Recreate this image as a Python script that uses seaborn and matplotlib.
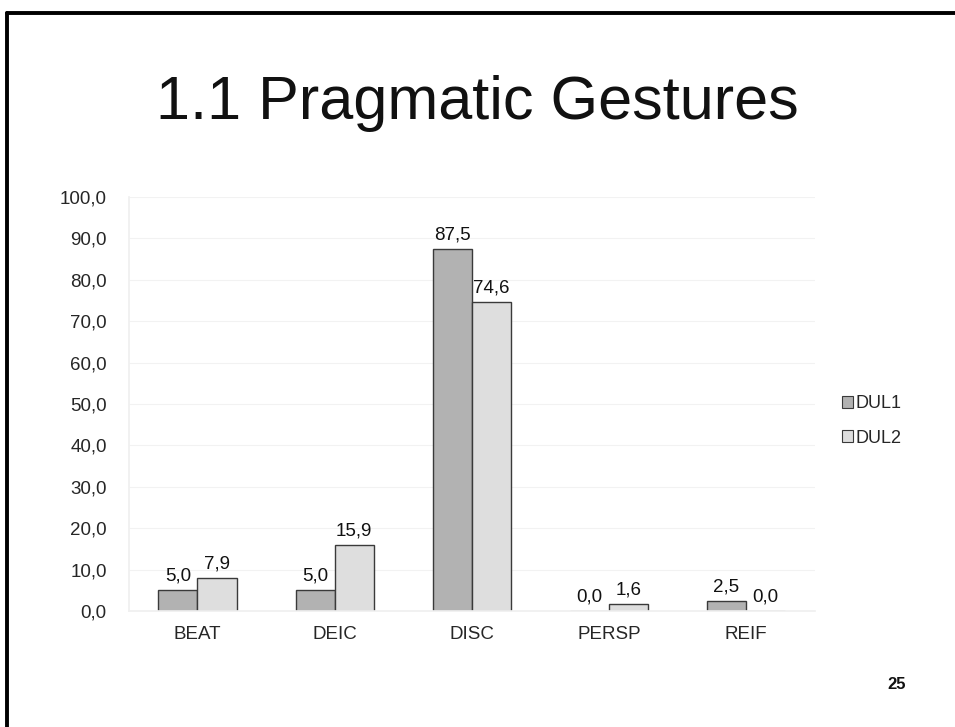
import matplotlib
matplotlib.use("Agg")
import matplotlib.pyplot as plt
from matplotlib.lines import Line2D
from matplotlib.patches import Patch
import numpy as np
import pandas as pd
import seaborn as sns

categories = ["BEAT", "DEIC", "DISC", "PERSP", "REIF"]
dul1 = [5.0, 5.0, 87.5, 0.0, 2.5]
dul2 = [7.9, 15.9, 74.6, 1.6, 0.0]
series = ["DUL1", "DUL2"]
colors = ["#b2b2b2", "#dedede"]
yticks = [0, 10, 20, 30, 40, 50, 60, 70, 80, 90, 100]

df = pd.DataFrame({
    "cat": categories * 2,
    "val": dul1 + dul2,
    "series": ["DUL1"] * len(categories) + ["DUL2"] * len(categories),
})

sns.set_theme(style="white")
plt.rcParams["font.family"] = ["Liberation Sans", "DejaVu Sans"]

fig = plt.figure(figsize=(9.55, 7.27), dpi=100)
ax = fig.add_axes([0.135, 0.1596, 0.718, 0.5695])

sns.barplot(data=df, x="cat", y="val", hue="series", order=categories,
            hue_order=series, palette=colors, width=0.57, gap=0,
            edgecolor="#3a3a3a", linewidth=1.0, saturation=1,
            legend=False, ax=ax)

ax.set_ylim(0, 100)
ax.set_xlim(-0.5, len(categories) - 0.5)
ax.set_yticks(yticks)
ax.set_yticklabels([f"{v:.1f}".replace(".", ",") for v in yticks], fontsize=13.5)
ax.tick_params(axis="x", labelsize=13.5, length=0, pad=11)
ax.tick_params(axis="y", length=0, pad=16)
ax.set_xlabel("")
ax.set_ylabel("")
for y in yticks:
    ax.axhline(y, color="#f2f2f2", lw=0.8, zorder=0)
for s in ["top", "right"]:
    ax.spines[s].set_visible(False)
ax.spines["left"].set_color("#f0f0f0")
ax.spines["bottom"].set_color("#f0f0f0")
ax.set_xticks(np.arange(-0.5, len(categories), 1.0), minor=True)
ax.tick_params(axis="x", which="minor", length=5, color="#f0f0f0", direction="out")

for cont in ax.containers:
    labels = [f"{b.get_height():.1f}".replace(".", ",") for b in cont]
    ax.bar_label(cont, labels=labels, padding=4, fontsize=13.5, color="#111111")

handles = [Patch(facecolor=c, edgecolor="#3a3a3a", linewidth=0.8, label=s)
           for c, s in zip(colors, series)]
fig.legend(handles=handles, loc="center left", bbox_to_anchor=(0.872, 0.421),
           frameon=False, fontsize=13, handlelength=0.6, handleheight=0.6,
           handletextpad=0.15, labelspacing=0.95, borderpad=0)

fig.text(0.5, 0.858, "1.1 Pragmatic Gestures", ha="center", va="center",
         fontsize=44, color="#111111")
fig.text(0.939, 0.058, "25", ha="center", va="center", fontsize=12,
         fontweight="bold", color="#111111")

# slide frame: top and left border
fig.add_artist(Line2D([0.0075, 1.0], [1 - 12.5 / 727, 1 - 12.5 / 727],
                      transform=fig.transFigure, color="black", lw=2.8))
fig.add_artist(Line2D([0.0075, 0.0075], [0.0, 1 - 12.5 / 727],
                      transform=fig.transFigure, color="black", lw=2.8))

fig.savefig("out.png", dpi=100)
